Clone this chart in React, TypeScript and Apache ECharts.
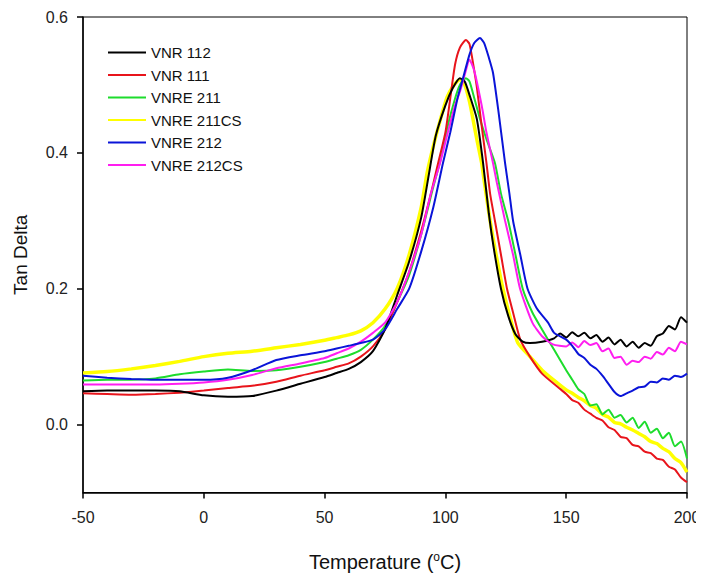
import React, { useEffect, useRef } from "react";
import * as echarts from "echarts";

const seriesNames = ["VNR 112", "VNR 111", "VNRE 211", "VNRE 211CS", "VNRE 212", "VNRE 212CS"];
const seriesColors = ["#000000", "#e8141b", "#1ddc2c", "#ffff00", "#0a14d8", "#ff1ef0"];

const xTicks = [-50, 0, 50, 100, 150, 200];
const yTicks = [0, 0.2, 0.4, 0.6];

const vnr112: [number, number][] = [
  [-50, 0.049], [-40, 0.05], [-30, 0.05], [-20, 0.05], [-10, 0.049], [0, 0.043], [10, 0.041], [20, 0.042],
  [30, 0.05], [40, 0.06], [50, 0.07], [55, 0.076], [60, 0.082], [65, 0.092], [70, 0.108], [75, 0.14],
  [80, 0.19], [85, 0.24], [90, 0.305], [93, 0.365], [96, 0.425], [100, 0.47], [103, 0.495], [106, 0.51],
  [108, 0.505], [110, 0.485], [113, 0.45], [115.6, 0.385], [118, 0.31], [120, 0.26], [123, 0.2], [126, 0.16],
  [129, 0.133], [132, 0.122], [135, 0.12], [140, 0.122], [145, 0.127], [147.5, 0.134], [150, 0.128],
  [152.5, 0.136], [155, 0.13], [157.5, 0.135], [160, 0.127], [162.5, 0.132], [165, 0.122], [167.5, 0.128],
  [170, 0.118], [172.5, 0.125], [175, 0.115], [177.5, 0.122], [180, 0.113], [182.5, 0.12], [185, 0.116],
  [187.5, 0.13], [190, 0.134], [192.5, 0.145], [195, 0.14], [197.5, 0.158], [200, 0.15],
];
const vnr111: [number, number][] = [
  [-50, 0.046], [-40, 0.045], [-30, 0.044], [-20, 0.045], [-10, 0.047], [0, 0.05], [10, 0.054], [20, 0.057],
  [30, 0.063], [40, 0.072], [50, 0.08], [55, 0.085], [60, 0.09], [65, 0.1], [70, 0.115], [75, 0.14],
  [80, 0.18], [85, 0.225], [90, 0.285], [94, 0.34], [97, 0.385], [100, 0.43], [102, 0.48], [104, 0.53],
  [106, 0.555], [108.5, 0.566], [110, 0.56], [112, 0.52], [113, 0.497], [115, 0.44], [117, 0.385], [118.5, 0.34],
  [120.5, 0.3], [123, 0.25], [125.5, 0.2], [128, 0.165], [131, 0.125], [135, 0.1], [140, 0.075], [147, 0.054],
  [150, 0.045], [152.5, 0.036], [155, 0.032], [157.5, 0.022], [160, 0.016], [162.5, 0.01], [165, 0.006],
  [167.5, -0.004], [170, -0.008], [172.5, -0.018], [175, -0.02], [177.5, -0.03], [180, -0.032], [182.5, -0.04],
  [185, -0.042], [187.5, -0.05], [190, -0.052], [192.5, -0.062], [195, -0.066], [197.5, -0.078], [200, -0.085],
];
const vnre211: [number, number][] = [
  [-50, 0.065], [-40, 0.066], [-30, 0.066], [-20, 0.068], [-10, 0.074], [0, 0.078], [10, 0.081], [20, 0.079],
  [30, 0.08], [40, 0.085], [50, 0.092], [55, 0.097], [60, 0.102], [65, 0.11], [70, 0.125], [75, 0.145],
  [80, 0.18], [85, 0.22], [90, 0.28], [95, 0.35], [98, 0.39], [101, 0.44], [104, 0.48], [106, 0.5],
  [108.5, 0.51], [110, 0.505], [112, 0.48], [114.3, 0.45], [117, 0.42], [120.5, 0.385], [123, 0.34], [126, 0.3],
  [129, 0.25], [132, 0.2], [136, 0.165], [140, 0.14], [145, 0.11], [150, 0.08], [152.5, 0.066], [155, 0.052],
  [157.5, 0.045], [160, 0.028], [162.5, 0.03], [165, 0.015], [167.5, 0.022], [170, 0.01], [172.5, 0.014],
  [175, 0.003], [177.5, 0.01], [180, -0.005], [182.5, 0.004], [185, -0.012], [187.5, -0.006], [190, -0.02],
  [192.5, -0.012], [195, -0.032], [197.5, -0.025], [200, -0.05],
];
const vnre211cs: [number, number][] = [
  [-50, 0.076], [-40, 0.078], [-30, 0.082], [-20, 0.087], [-10, 0.093], [0, 0.1], [10, 0.105], [20, 0.108],
  [30, 0.113], [40, 0.118], [50, 0.124], [55, 0.128], [60, 0.132], [65, 0.138], [70, 0.15], [75, 0.17],
  [80, 0.2], [85, 0.25], [90, 0.32], [92.4, 0.37], [95, 0.41], [98, 0.45], [100.7, 0.482], [103, 0.497],
  [106, 0.508], [108, 0.5], [110, 0.475], [111.4, 0.45], [113, 0.42], [115, 0.385], [116, 0.36], [118.5, 0.3],
  [121, 0.25], [123.8, 0.2], [127, 0.155], [130, 0.12], [135, 0.1], [140, 0.08], [145, 0.065], [150, 0.051],
  [152.5, 0.046], [155, 0.04], [157.5, 0.035], [160, 0.028], [162.5, 0.024], [165, 0.015], [167.5, 0.011],
  [170, 0.003], [172.5, 0.001], [175, -0.004], [177.5, -0.008], [180, -0.013], [182.5, -0.018], [185, -0.025],
  [187.5, -0.028], [190, -0.035], [192.5, -0.04], [195, -0.05], [197.5, -0.056], [200, -0.07],
];
const vnre212: [number, number][] = [
  [-50, 0.072], [-40, 0.069], [-30, 0.067], [-20, 0.066], [-10, 0.066], [0, 0.066], [10, 0.069], [20, 0.08],
  [30, 0.095], [40, 0.102], [50, 0.108], [55, 0.112], [60, 0.116], [65, 0.12], [70, 0.125], [75, 0.14],
  [80, 0.17], [85, 0.2], [90, 0.255], [95, 0.32], [99, 0.385], [102, 0.43], [105, 0.48], [107.3, 0.51],
  [110, 0.545], [112, 0.562], [114.3, 0.569], [116, 0.562], [118, 0.54], [119.7, 0.518], [122, 0.46], [124.7, 0.385],
  [126.5, 0.34], [128, 0.3], [131, 0.25], [134, 0.2], [138, 0.17], [142.5, 0.15], [145, 0.135], [150, 0.125],
  [152.5, 0.116], [155, 0.104], [157.5, 0.098], [160, 0.088], [162.5, 0.082], [165, 0.072], [167.5, 0.06],
  [170, 0.048], [172.5, 0.042], [175, 0.046], [177.5, 0.05], [180, 0.055], [182.5, 0.056], [185, 0.063],
  [187.5, 0.062], [190, 0.068], [192.5, 0.066], [195, 0.072], [197.5, 0.07], [200, 0.075],
];
const vnre212cs: [number, number][] = [
  [-50, 0.059], [-40, 0.059], [-30, 0.059], [-20, 0.059], [-10, 0.06], [0, 0.062], [10, 0.066], [20, 0.073],
  [30, 0.083], [40, 0.09], [50, 0.098], [55, 0.105], [60, 0.112], [65, 0.122], [70, 0.135], [75, 0.15],
  [80, 0.18], [85, 0.225], [90, 0.28], [94, 0.34], [97.8, 0.385], [101, 0.43], [104, 0.47], [106, 0.49],
  [108, 0.515], [110, 0.537], [112, 0.52], [115, 0.47], [117, 0.43], [119.7, 0.385], [121.3, 0.356], [124.7, 0.3],
  [128, 0.25], [130.9, 0.2], [136, 0.15], [140, 0.13], [144.5, 0.118], [150, 0.115], [152.5, 0.121],
  [155, 0.114], [157.5, 0.123], [160, 0.117], [162.5, 0.12], [165, 0.108], [167.5, 0.112], [170, 0.098],
  [172.5, 0.1], [175, 0.088], [177.5, 0.094], [180, 0.092], [182.5, 0.1], [185, 0.097], [187.5, 0.107],
  [190, 0.103], [192.5, 0.113], [195, 0.108], [197.5, 0.122], [200, 0.118],
];

const allData = [vnr112, vnr111, vnre211, vnre211cs, vnre212, vnre212cs];

export default function App() {
  const ref = useRef<HTMLDivElement>(null);
  useEffect(() => {
    if (!ref.current) return;
    const chart = echarts.init(ref.current, undefined, { renderer: "svg" });
    const font = "Liberation Sans, Arial, sans-serif";
    const order = [3, 2, 1, 0, 5, 4];
    chart.setOption({
      animation: false,
      backgroundColor: "#ffffff",
      grid: { left: 83, top: 17, right: 17, bottom: 84, show: true, borderColor: "#000", borderWidth: 1 },
      legend: {
        orient: "vertical",
        left: 103,
        top: 40,
        icon: "rect",
        itemWidth: 38,
        itemHeight: 2,
        itemGap: 7.5,
        itemTextGap: 10,
        data: seriesNames,
        textStyle: { fontFamily: font, fontSize: 15, color: "#111" },
      },
      xAxis: {
        type: "value",
        min: -50,
        max: 200,
        interval: 50,
        name: "Temperature ({s|o}C)",
        nameLocation: "middle",
        nameGap: 58,
        nameTextStyle: {
          fontFamily: font,
          fontSize: 20,
          color: "#111",
          rich: { s: { fontFamily: font, fontSize: 12, color: "#111", padding: [0, 0, 11, 0] } },
        },
        axisLine: { onZero: false, lineStyle: { color: "#000", width: 1.5 } },
        axisTick: { inside: false, length: 6, lineStyle: { color: "#000", width: 1.5 } },
        axisLabel: { fontFamily: font, fontSize: 16, color: "#222", margin: 17, customValues: xTicks },
        splitLine: { show: false },
      },
      yAxis: {
        type: "value",
        min: -0.1,
        max: 0.6,
        name: "Tan Delta",
        nameLocation: "middle",
        nameGap: 53,
        nameTextStyle: { fontFamily: font, fontSize: 19, color: "#111" },
        axisLine: { onZero: false, lineStyle: { color: "#000", width: 1.5 } },
        axisTick: { inside: false, length: 6, customValues: yTicks, lineStyle: { color: "#000", width: 1.5 } },
        axisLabel: {
          fontFamily: font,
          fontSize: 16,
          color: "#222",
          margin: 15,
          customValues: yTicks,
          formatter: (v: number) => v.toFixed(1),
        },
        splitLine: { show: false },
      },
      series: order.map((i) => ({
        name: seriesNames[i],
        type: "line",
        data: allData[i],
        showSymbol: false,
        smooth: 0.2,
        color: seriesColors[i],
        lineStyle: { width: i === 3 ? 3.5 : 2, color: seriesColors[i] },
        z: i === 3 ? 1 : 2,
      })),
    });
    return () => chart.dispose();
  }, []);
  return <div ref={ref} style={{ width: 704, height: 577, marginLeft: -8, marginTop: -8 }} />;
}
